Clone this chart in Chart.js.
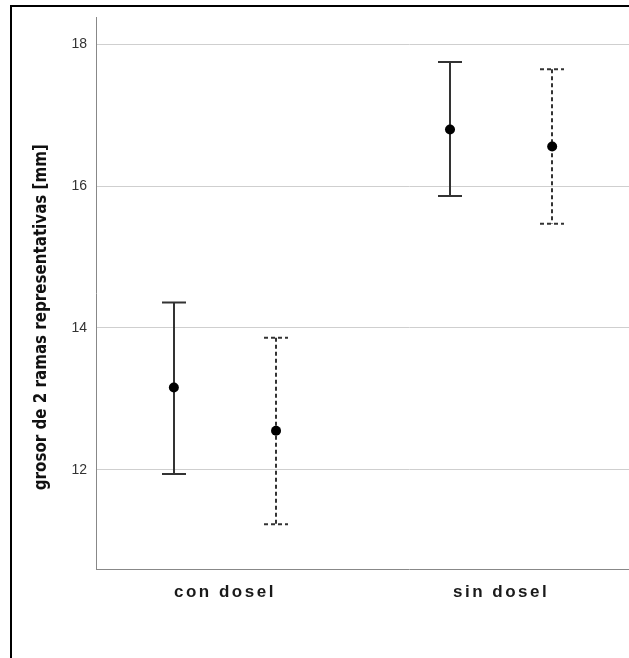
<!DOCTYPE html>
<html>
<head>
<meta charset="utf-8">
<script src="https://cdn.jsdelivr.net/npm/chart.js@4.4.1/dist/chart.umd.min.js"></script>
<style>
  html, body { margin: 0; padding: 0; background: #fff; overflow: hidden; }
  #frame { position: absolute; left: 10px; top: 5px; width: 900px; height: 900px; border: 2px solid #000; }
  #wrap { position: absolute; left: 0; top: 0; width: 760px; height: 658px; }
</style>
</head>
<body>
<div id="frame"></div>
<div id="wrap"><canvas id="chart"></canvas></div>
<script>
// data
var categories = ['con dosel', 'sin dosel'];
var seriesNames = ['rama 1', 'rama 2'];
var mean1 = [13.16, 16.80];
var low1 = [11.94, 15.86];
var high1 = [14.36, 17.75];
var mean2 = [12.55, 16.56];
var low2 = [11.23, 15.47];
var high2 = [13.86, 17.65];
var yTicks = [12, 14, 16, 18];

var offsets = [-0.185, 0.185];
var dashes = [[], [4, 3]];
var means = [mean1, mean2];
var lows = [low1, low2];
var highs = [high1, high2];

var datasets = seriesNames.map(function (name, s) {
    return {
        label: name,
        data: categories.map(function (c, i) {
            return { x: i + offsets[s], y: means[s][i] };
        }),
        pointRadius: 5,
        pointHoverRadius: 5,
        backgroundColor: '#000',
        borderColor: '#000',
        borderWidth: 0
    };
});

var errorBars = {
    id: 'errorBars',
    beforeDatasetsDraw: function (chart) {
        var ctx = chart.ctx;
        var xs = chart.scales.x, ys = chart.scales.y;
        ctx.save();
        ctx.strokeStyle = '#333';
        ctx.lineWidth = 2;
        seriesNames.forEach(function (name, s) {
            ctx.setLineDash(dashes[s]);
            categories.forEach(function (c, i) {
                var px = Math.round(xs.getPixelForValue(i + offsets[s]));
                var yl = ys.getPixelForValue(lows[s][i]);
                var yh = ys.getPixelForValue(highs[s][i]);
                ctx.beginPath();
                ctx.moveTo(px, yh);
                ctx.lineTo(px, yl);
                ctx.moveTo(px - 12, yh);
                ctx.lineTo(px + 12, yh);
                ctx.moveTo(px - 12, yl);
                ctx.lineTo(px + 12, yl);
                ctx.stroke();
            });
        });
        ctx.restore();
    }
};

var ctx = document.getElementById('chart').getContext('2d');
var chart = new Chart(ctx, {
    type: 'scatter',
    data: { datasets: datasets },
    plugins: [errorBars],
    options: {
        responsive: true,
        maintainAspectRatio: false,
        animation: false,
        layout: { padding: { top: 13, right: 38, bottom: 0, left: 0 } },
        plugins: { legend: { display: false }, tooltip: { enabled: false } },
        scales: {
            x: {
                type: 'linear',
                min: -0.467,
                max: 1.8,
                grid: { display: false },
                border: { display: true, color: '#888', width: 1 },
                afterBuildTicks: function (scale) {
                    scale.ticks = categories.map(function (c, i) { return { value: i }; });
                },
                afterFit: function (scale) {
                    scale.height = 89;
                    if (!scale._spaced) {
                        var orig = scale.drawLabels;
                        scale.drawLabels = function (area) {
                            this.ctx.save();
                            this.ctx.letterSpacing = '2.5px';
                            orig.call(this, area);
                            this.ctx.restore();
                        };
                        scale._spaced = true;
                    }
                },
                ticks: {
                    padding: 5,
                    color: '#1a1a1a',
                    font: { family: "'Liberation Sans', Arial, sans-serif", size: 17, weight: 'bold' },
                    callback: function (v) { return categories[v]; }
                }
            },
            y: {
                min: 10.6,
                max: 18.38,
                grid: { color: '#cfcfcf', lineWidth: 1, drawTicks: false },
                border: { display: true, color: '#888', width: 1 },
                afterBuildTicks: function (scale) {
                    scale.ticks = yTicks.map(function (v) { return { value: v }; });
                },
                afterFit: function (scale) {
                    scale.width = 96;
                    if (!scale._shifted) {
                        var origTitle = scale.drawTitle;
                        scale.drawTitle = function () {
                            this.ctx.save();
                            this.ctx.translate(0, 24);
                            origTitle.call(this);
                            this.ctx.restore();
                        };
                        scale._shifted = true;
                    }
                },
                ticks: {
                    padding: 9,
                    color: '#333',
                    font: { family: "'Liberation Sans', Arial, sans-serif", size: 14 }
                },
                title: {
                    display: true,
                    text: 'grosor de 2 ramas representativas [mm]',
                    color: '#111',
                    padding: { top: 32, bottom: 0 },
                    font: { family: "'DejaVu Sans Condensed', sans-serif", size: 16.8, weight: 'bold' }
                }
            }
        }
    }
});
</script>
</body>
</html>
